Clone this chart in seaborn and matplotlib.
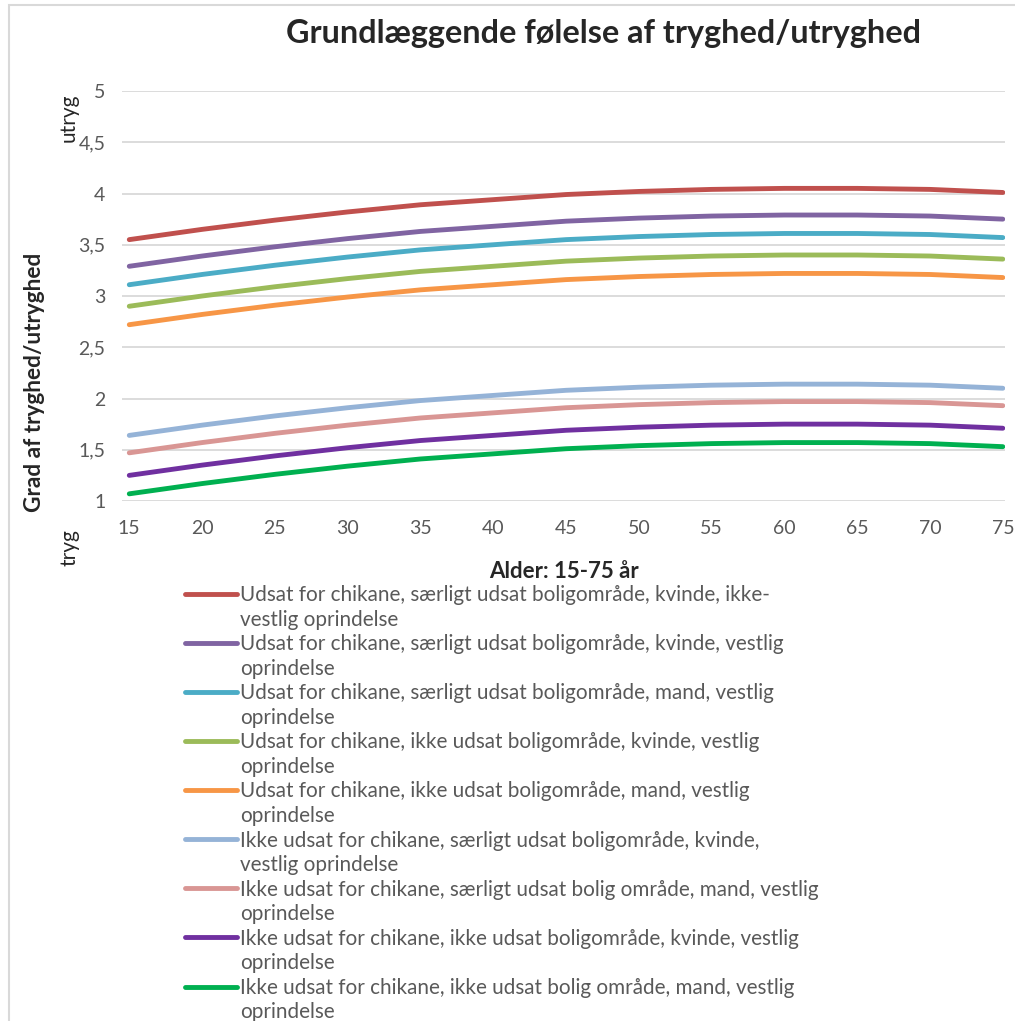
import numpy as np
import pandas as pd
import seaborn as sns
import matplotlib.pyplot as plt
from matplotlib.lines import Line2D
from matplotlib.patches import Rectangle

alder = [15, 20, 25, 30, 35, 40, 45, 50, 55, 60, 65, 70, 75]

grupper = [
    'Udsat for chikane, særligt udsat boligområde, kvinde, ikke-\nvestlig oprindelse',
    'Udsat for chikane, særligt udsat boligområde, kvinde, vestlig\noprindelse',
    'Udsat for chikane, særligt udsat boligområde, mand, vestlig\noprindelse',
    'Udsat for chikane, ikke udsat boligområde, kvinde, vestlig\noprindelse',
    'Udsat for chikane, ikke udsat boligområde, mand, vestlig\noprindelse',
    'Ikke udsat for chikane, særligt udsat boligområde, kvinde,\nvestlig oprindelse',
    'Ikke udsat for chikane, særligt udsat bolig område, mand, vestlig\noprindelse',
    'Ikke udsat for chikane, ikke udsat boligområde, kvinde, vestlig\noprindelse',
    'Ikke udsat for chikane, ikke udsat bolig område, mand, vestlig\noprindelse',
]

farver = ['#C0504D', '#8064A2', '#4BACC6', '#9BBB59', '#F79646',
          '#95B3D7', '#D99694', '#7030A0', '#00B050']

chik_saerligt_kvinde_ikkevest = [3.55, 3.65, 3.74, 3.82, 3.89, 3.94, 3.99, 4.02, 4.04, 4.05, 4.05, 4.04, 4.01]
chik_saerligt_kvinde_vest = [3.29, 3.39, 3.48, 3.56, 3.63, 3.68, 3.73, 3.76, 3.78, 3.79, 3.79, 3.78, 3.75]
chik_saerligt_mand_vest = [3.11, 3.21, 3.30, 3.38, 3.45, 3.50, 3.55, 3.58, 3.60, 3.61, 3.61, 3.60, 3.57]
chik_ikke_kvinde_vest = [2.90, 3.00, 3.09, 3.17, 3.24, 3.29, 3.34, 3.37, 3.39, 3.40, 3.40, 3.39, 3.36]
chik_ikke_mand_vest = [2.72, 2.82, 2.91, 2.99, 3.06, 3.11, 3.16, 3.19, 3.21, 3.22, 3.22, 3.21, 3.18]
ikkechik_saerligt_kvinde_vest = [1.64, 1.74, 1.83, 1.91, 1.98, 2.03, 2.08, 2.11, 2.13, 2.14, 2.14, 2.13, 2.10]
ikkechik_saerligt_mand_vest = [1.47, 1.57, 1.66, 1.74, 1.81, 1.86, 1.91, 1.94, 1.96, 1.97, 1.97, 1.96, 1.93]
ikkechik_ikke_kvinde_vest = [1.25, 1.35, 1.44, 1.52, 1.59, 1.64, 1.69, 1.72, 1.74, 1.75, 1.75, 1.74, 1.71]
ikkechik_ikke_mand_vest = [1.07, 1.17, 1.26, 1.34, 1.41, 1.46, 1.51, 1.54, 1.56, 1.57, 1.57, 1.56, 1.53]

yticks = [1, 1.5, 2, 2.5, 3, 3.5, 4, 4.5, 5]
ytick_labels = ['1', '1,5', '2', '2,5', '3', '3,5', '4', '4,5', '5']

serier = [chik_saerligt_kvinde_ikkevest, chik_saerligt_kvinde_vest, chik_saerligt_mand_vest,
          chik_ikke_kvinde_vest, chik_ikke_mand_vest, ikkechik_saerligt_kvinde_vest,
          ikkechik_saerligt_mand_vest, ikkechik_ikke_kvinde_vest, ikkechik_ikke_mand_vest]

df = pd.DataFrame({
    'alder': alder * len(grupper),
    'grad': [v for s in serier for v in s],
    'gruppe': [g for g in grupper for _ in alder],
})

sns.set_style('white')
plt.rcParams['font.family'] = ['Lato', 'DejaVu Sans']

fig = plt.figure(figsize=(10.15, 10.21), dpi=100)
W, H = 1015, 1021
ax = fig.add_axes([122 / W, 1 - 501 / H, (1005 - 122) / W, 410 / H])

sns.lineplot(data=df, x='alder', y='grad', hue='gruppe', hue_order=grupper,
             palette=farver, linewidth=3.5, ax=ax, legend=False)
for ln in ax.lines:
    ln.set_solid_capstyle('round')

ax.set_xlim(14.5, 75.15)
ax.set_ylim(1, 5)
ax.set_xticks(alder)
ax.set_yticks(yticks)
ax.set_yticklabels(ytick_labels)
ax.grid(axis='y', color='#D9D9D9', linewidth=1.3)
ax.set_axisbelow(True)
for sp in ax.spines.values():
    sp.set_visible(False)
ax.tick_params(axis='both', length=0, labelsize=14, labelcolor='#595959')
ax.tick_params(axis='y', pad=12)
ax.tick_params(axis='x', pad=14)
ax.set_xlabel('')
ax.set_ylabel('')

fig.text(603 / W, 1 - 33 / H, 'Grundlæggende følelse af tryghed/utryghed',
         ha='center', va='center', fontsize=23.3, fontweight='bold')
fig.text(564 / W, 1 - 572 / H, 'Alder: 15-75 år', ha='center', va='center',
         fontsize=16, fontweight='bold')
fig.text(35 / W, 1 - 382 / H, 'Grad af tryghed/utryghed', rotation=90,
         ha='center', va='center', fontsize=16.3, fontweight='bold')
fig.text(69 / W, 1 - 118 / H, 'utryg', rotation=90, ha='center', va='center', fontsize=15)
fig.text(69 / W, 1 - 548 / H, 'tryg', rotation=90, ha='center', va='center', fontsize=15)

# one legend row per text line, so the line sample sits by the first line
rad_handles, rad_labels = [], []
for ln, g in zip(ax.lines[:len(grupper)], grupper):
    forste, anden = g.split('\n')
    rad_handles += [ln, Line2D([], [], color='none')]
    rad_labels += [forste, anden]

leg = ax.legend(rad_handles, rad_labels, loc='upper left', bbox_to_anchor=(185 / W, 1 - 585 / H),
                bbox_transform=fig.transFigure, frameon=False, fontsize=14.9,
                labelcolor='#595959', handlelength=2.5, handletextpad=0.18,
                labelspacing=0.22, borderpad=0, borderaxespad=0)

fig.patches.append(Rectangle((9 / W, -0.1), 1.2, 1.1 - 5 / H, transform=fig.transFigure,
                             fill=False, edgecolor='#D9D9D9', linewidth=1.5))

fig.savefig('out.png', dpi=100)
